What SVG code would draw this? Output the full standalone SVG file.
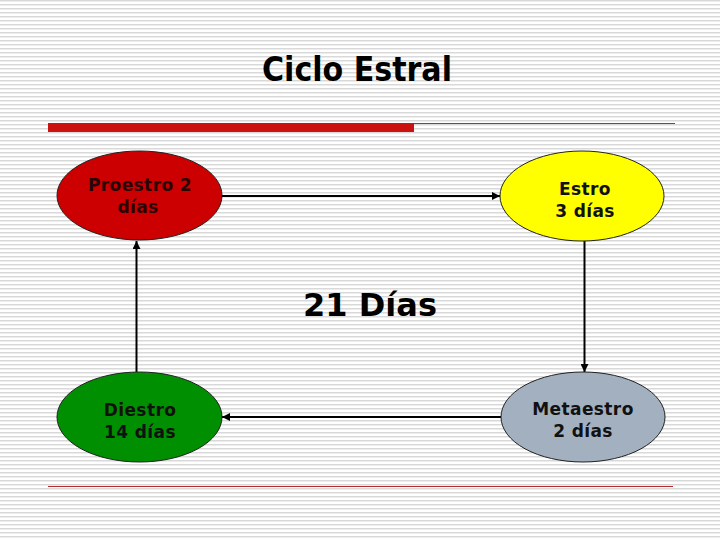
<svg xmlns="http://www.w3.org/2000/svg" width="720" height="540" viewBox="0 0 720 540">
<defs>
<pattern id="stripes" x="0" y="0" width="8" height="4" patternUnits="userSpaceOnUse">
<rect x="0" y="0" width="8" height="4" fill="#ffffff"/>
<rect x="0" y="0" width="8" height="1.5" fill="#d9d9d9"/>
</pattern>
<marker id="arr" viewBox="0 0 10 10" refX="10" refY="5" markerWidth="8" markerHeight="8" markerUnits="userSpaceOnUse" orient="auto">
<path d="M0,0 L10,5 L0,10 z" fill="#000"/>
</marker>
<style>
.node ellipse{stroke:#222;stroke-width:1}
.lbl{font-family:"DejaVu Sans",Verdana,sans-serif;font-weight:bold;font-size:17px;letter-spacing:0.4px;text-anchor:middle;fill:#111}
.conn line{stroke:#000;stroke-width:2;marker-end:url(#arr)}
.rule{stroke:#b52a2a;stroke-width:1}
</style>
</defs>
<rect x="0" y="0" width="720" height="540" fill="url(#stripes)"/>
<text x="357" y="81" font-family="DejaVu Sans,Verdana,sans-serif" font-weight="bold" font-size="33" text-anchor="middle" textLength="190" lengthAdjust="spacingAndGlyphs" fill="#000">Ciclo Estral</text>
<rect x="48" y="123" width="366" height="9" fill="#cc1111"/>
<line class="rule" x1="414" y1="123.5" x2="675" y2="123.5"/>
<line class="rule" x1="48" y1="486.5" x2="673" y2="486.5"/>
<g id="connectors" class="conn">
<line x1="222" y1="196" x2="500" y2="196"/>
<line x1="584.5" y1="241" x2="584.5" y2="372"/>
<line x1="501" y1="417" x2="222" y2="417"/>
<line x1="136.5" y1="372" x2="136.5" y2="241"/>
</g>
<g id="proestro" class="node">
<ellipse cx="139.5" cy="195.5" rx="82.5" ry="44.5" fill="#cc0000"/>
<text class="lbl" x="140" y="191" style="fill:#2a0505">Proestro 2</text>
<text class="lbl" x="138" y="213" style="fill:#2a0505">días</text>
</g>
<g id="estro" class="node">
<ellipse cx="582" cy="196" rx="82" ry="45" fill="#ffff00"/>
<text class="lbl" x="585" y="195">Estro</text>
<text class="lbl" x="585" y="217">3 días</text>
</g>
<g id="diestro" class="node">
<ellipse cx="139.5" cy="417" rx="82.5" ry="45" fill="#008f00"/>
<text class="lbl" x="140" y="416">Diestro</text>
<text class="lbl" x="140" y="438">14 días</text>
</g>
<g id="metaestro" class="node">
<ellipse cx="583" cy="417" rx="82" ry="45" fill="#a3b0bf"/>
<text class="lbl" x="583" y="415">Metaestro</text>
<text class="lbl" x="583" y="437">2 días</text>
</g>
<text x="370" y="316" font-family="DejaVu Sans,Verdana,sans-serif" font-weight="bold" font-size="32" text-anchor="middle" fill="#000">21 Días</text>
</svg>
